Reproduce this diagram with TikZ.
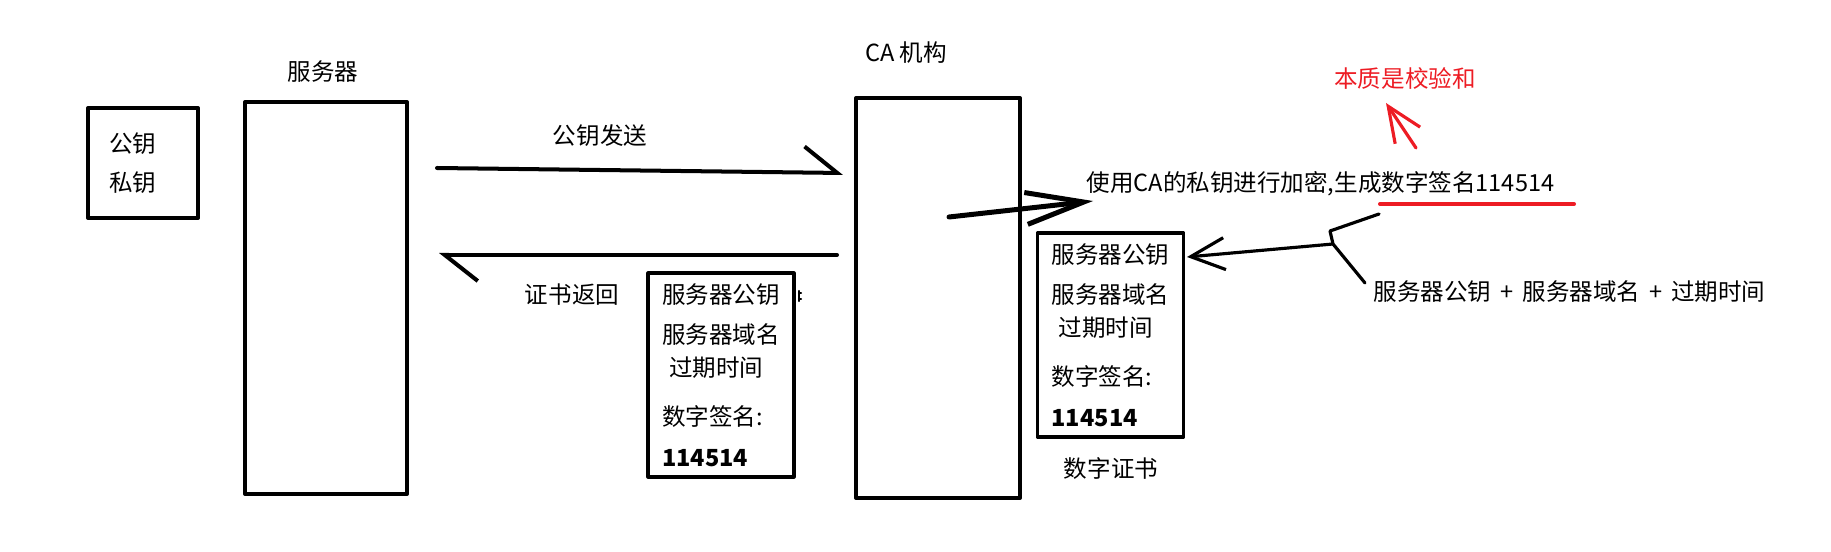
\documentclass[tikz,border=0pt]{standalone}
\usepackage{fontspec}
\setmainfont{Noto Sans CJK SC}
\usetikzlibrary{arrows.meta}
\definecolor{paintred}{RGB}{237,28,36}
% lines of a certificate
\newcommand{\certlines}{服务器公钥\\[0.045cm]服务器域名\\[-0.03cm]\hspace*{0.07cm}过期时间\\[0.125cm]数字签名:\\[0.05cm]\textbf{114514}}

\begin{document}
\begin{tikzpicture}[line cap=round, line join=round,
  every node/.style={font=\fontsize{6.7}{10.24}\selectfont, inner sep=0pt},
  box/.style={draw, line width=1.14pt},
  certbox/.style={draw, line width=0.9pt, minimum width=1.46cm, minimum height=2.04cm, align=left},
  sendline/.style={line width=1.14pt, -{Straight Barb[left, length=0.33cm, width=0.52cm]}},
  signline/.style={line width=1.42pt, -{Straight Barb[length=0.58cm, width=0.32cm]}},
  thinline/.style={line width=0.9pt},
  redline/.style={paintred, line width=0.9pt}]
			\useasboundingbox (0,0) rectangle (18.31,-5.52);
			
			% Boxes
			\node[box, minimum size=1.10cm, text width=0.68cm, align=left] (keys) at (1.43,-1.63) {公钥\\[0.03cm]私钥};
			\node[box, minimum width=1.62cm, minimum height=3.92cm] (server) at (3.26,-2.98) {};
			\node[box, minimum width=1.64cm, minimum height=4.00cm] (ca) at (9.38,-2.98) {};
			\node at (3.23,-0.72) (server-label) {服务器};
			\node at (9.06,-0.53) (ca-label) {CA 机构};
			
			% Public key sent to the CA
			\coordinate (send-start) at (4.37,-1.68);
			\coordinate (send-end) at (8.43,-1.73);
			\draw[sendline] (send-start) -- (send-end);
			\node at (6.00,-1.36) (send-label) {公钥发送};
			
			% Certificate returned
			\coordinate (back-start) at (8.37,-2.55);
			\coordinate (back-end) at (4.39,-2.55);
			\draw[sendline] (back-start) -- (back-end);
			\node at (5.72,-2.95) (back-label) {证书返回};
			\node[certbox] (cert-left) at (7.21,-3.75) {\certlines};
			\draw[line width=0.6pt] (7.99,-2.91) -- (7.99,-3.01) (7.99,-2.93) -- (8.01,-2.93) (7.99,-2.99) -- (8.01,-2.99);
			
			% Signing at the CA
			\coordinate (sign-start) at (9.49,-2.17);
			\coordinate (sign-end) at (10.93,-2.01);
			\draw[signline] (sign-start) -- (sign-end);
			\node[anchor=west] at (10.86,-1.84) (sign-label) {使用CA的私钥进行加密,生成数字签名114514};
			\draw[redline, line width=1.14pt] (13.80,-2.04) -- (15.74,-2.04);
			
			% Red note
			\node[text=paintred] at (14.05,-0.78) (essence) {本质是校验和};
			\coordinate (red-tail) at (14.16,-1.48);
			\coordinate (red-tip) at (13.86,-1.03);
			\draw[redline, -{Straight Barb[length=0.35cm, width=0.30cm]}] (red-tail) -- (red-tip);
			
			% Digital certificate
			\node[certbox] (cert-right) at (11.105,-3.35) {\certlines};
			\node at (11.11,-4.69) (cert-label) {数字证书};
			
			% Contents fed into the certificate
			\coordinate (fork) at (13.33,-2.44);
			\coordinate (cert-in) at (11.87,-2.57);
			\draw[thinline, -{Straight Barb[length=0.34cm, width=0.32cm]}] (fork) -- (cert-in);
			\draw[thinline] (13.79,-2.14) -- (13.30,-2.31) -- (fork) -- (13.65,-2.83);
			\node[anchor=west] at (13.73,-2.92) (parts) {服务器公钥\hspace{0.09cm}+\hspace{0.09cm}服务器域名\hspace{0.09cm}+\hspace{0.09cm}过期时间};
		\end{tikzpicture}
\end{document}
